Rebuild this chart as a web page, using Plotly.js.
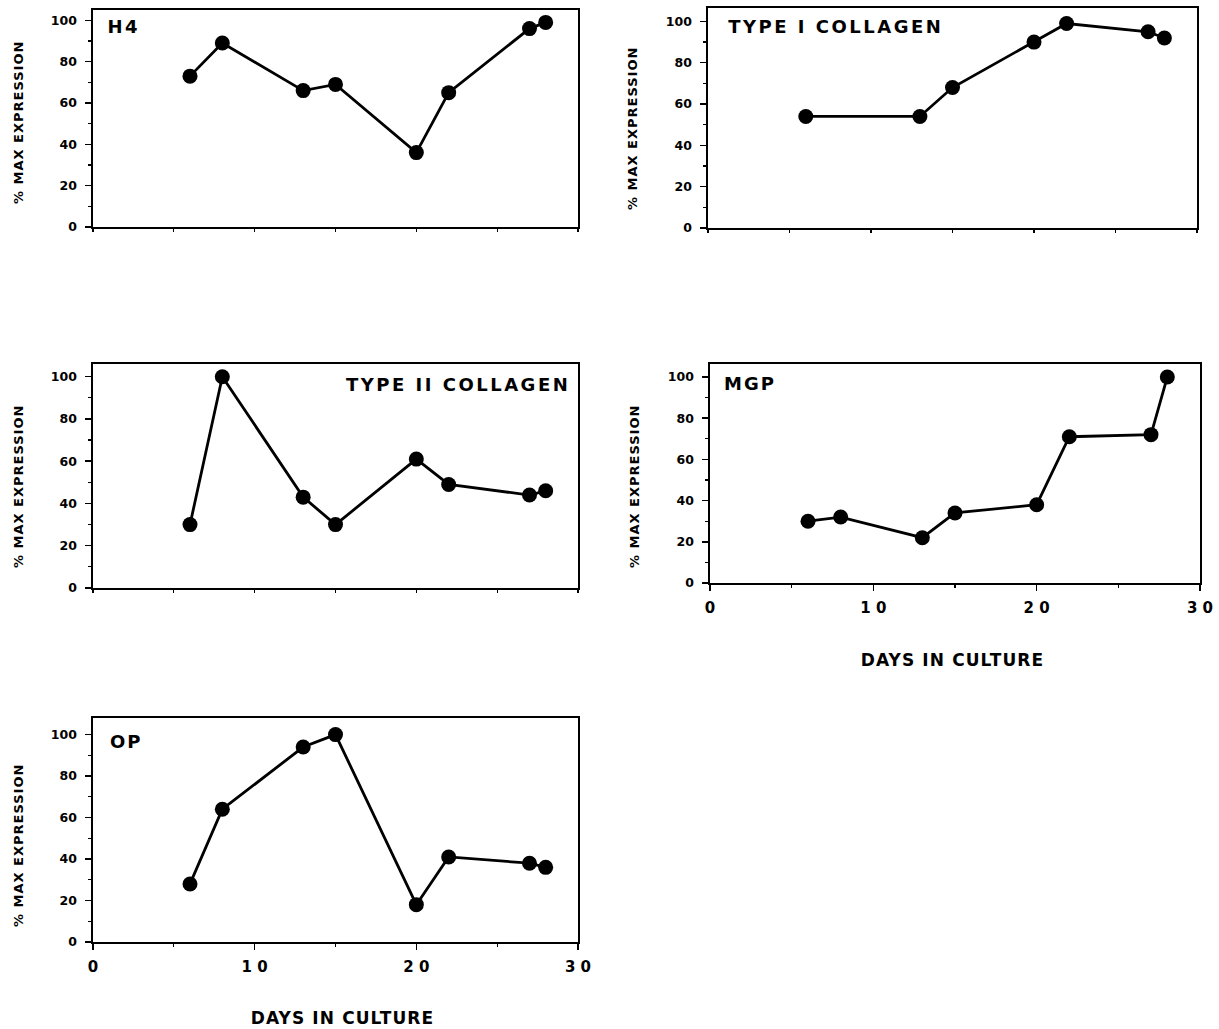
<!DOCTYPE html>
<html>
<head>
<meta charset="utf-8">
<script src="https://cdn.plot.ly/plotly-3.0.1.min.js"></script>
<style>
html,body{margin:0;padding:0;background:#fff;}
#chart{width:1219px;height:1029px;}
.annotation[data-index="0"] text,.annotation[data-index="1"] text,.annotation[data-index="2"] text,
.annotation[data-index="3"] text,.annotation[data-index="4"] text{letter-spacing:1px;}
.annotation[data-index="5"] text{letter-spacing:2.5px;}
.annotation[data-index="6"] text,.annotation[data-index="7"] text{letter-spacing:2.5px;}
.annotation[data-index="8"] text,.annotation[data-index="9"] text{letter-spacing:2px;}
.annotation[data-index="10"] text,.annotation[data-index="11"] text{letter-spacing:1.1px;}
</style>
</head>
<body>
<div id="chart"></div>
<script>
const days = [6, 8, 13, 15, 20, 22, 27, 28];
const daysTypeI = [6, 13, 15, 20, 22, 27, 28];
const h4 = [73, 89, 66, 69, 36, 65, 96, 99];
const typeI = [54, 54, 68, 90, 99, 95, 92];
const typeII = [30, 100, 43, 30, 61, 49, 44, 46];
const mgp = [30, 32, 22, 34, 38, 71, 72, 100];
const op = [28, 64, 94, 100, 18, 41, 38, 36];
const panelNames = ['H4', 'TYPE I COLLAGEN', 'TYPE II COLLAGEN', 'MGP', 'OP'];
const xTickVals = [0, 10, 20, 30];
const xTickText = ['0', '1 0', '2 0', '3 0'];
const yTickVals = [0, 20, 40, 60, 80, 100];
const yTitle = '% MAX EXPRESSION';
const xTitle = 'DAYS IN CULTURE';

const W = 1219, H = 1029;
const FONT = 'DejaVu Sans, Liberation Sans, sans-serif';
// panel frames in pixels: [left, right, top, bottom], y max
const frames = [
  [93, 578, 10, 227, 105],
  [708, 1197, 8, 228, 106.5],
  [93, 578, 364, 588, 106],
  [710, 1200, 364, 583, 106.3],
  [93, 578, 718, 942, 108]
];
const series = [
  [days, h4], [daysTypeI, typeI], [days, typeII], [days, mgp], [days, op]
];
const showX = [false, false, false, true, true];
const yTitlePos = [[18, 123], [632, 129], [18, 487], [634, 487], [18, 846]];

const traces = [];
const layout = {
  width: W, height: H,
  margin: {l: 0, r: 0, t: 0, b: 0},
  paper_bgcolor: '#fff', plot_bgcolor: '#fff',
  showlegend: false,
  font: {family: FONT, color: '#000'},
  annotations: []
};

frames.forEach((f, i) => {
  const n = i + 1;
  const sfx = n === 1 ? '' : String(n);
  traces.push({
    x: series[i][0], y: series[i][1],
    xaxis: 'x' + sfx, yaxis: 'y' + sfx,
    type: 'scatter', mode: 'lines+markers',
    line: {color: '#000', width: 2.8},
    marker: {color: '#000', size: 15},
    cliponaxis: false
  });
  layout['xaxis' + sfx] = {
    domain: [f[0] / W, f[1] / W],
    anchor: 'y' + sfx,
    range: [0, 30],
    showline: true, linecolor: '#000', linewidth: 1.6, mirror: true,
    showgrid: false, zeroline: false,
    tickmode: 'array', tickvals: xTickVals, ticktext: xTickText,
    ticks: 'outside', ticklen: showX[i] ? 6 : 3, tickwidth: 1.5, tickcolor: '#000',
    showticklabels: showX[i],
    tickfont: {family: FONT, size: 15, weight: 'bold', color: '#000'},
    minor: {tickvals: [5, 15, 25], ticks: 'outside', ticklen: 3, tickwidth: 1.2, tickcolor: '#000'},
    ticklabelstandoff: 4,
    fixedrange: true
  };
  layout['yaxis' + sfx] = {
    domain: [1 - f[3] / H, 1 - f[2] / H],
    anchor: 'x' + sfx,
    range: [0, f[4]],
    showline: true, linecolor: '#000', linewidth: 1.6, mirror: true,
    showgrid: false, zeroline: false,
    tickmode: 'array', tickvals: yTickVals,
    ticks: 'outside', ticklen: 6, tickwidth: 1.5, tickcolor: '#000',
    tickfont: {family: FONT, size: 12.5, weight: 'bold', color: '#000'},
    minor: {dtick: 10, ticks: 'outside', ticklen: 3, tickwidth: 1.2, tickcolor: '#000'},
    ticklabelstandoff: 6,
    fixedrange: true
  };
  // y axis title
  layout.annotations.push({
    xref: 'paper', yref: 'paper',
    x: yTitlePos[i][0] / W, y: 1 - yTitlePos[i][1] / H,
    text: yTitle, textangle: -90, showarrow: false,
    xanchor: 'center', yanchor: 'middle',
    font: {family: FONT, size: 13, weight: 'bold', color: '#000'}
  });
});

// panel labels (centre positions)
const labelPos = [[124, 27], [836, 27], [458, 385], [750, 384], [126, 741]];
labelPos.forEach((p, i) => {
  layout.annotations.push({
    xref: 'paper', yref: 'paper', x: p[0] / W, y: 1 - p[1] / H,
    text: panelNames[i], showarrow: false, xanchor: 'center', yanchor: 'middle',
    font: {family: FONT, size: 18, weight: 'bold', color: '#000'}
  });
});

// x axis titles
[[952, 660], [342, 1018]].forEach(p => {
  layout.annotations.push({
    xref: 'paper', yref: 'paper', x: p[0] / W, y: 1 - p[1] / H,
    text: xTitle, showarrow: false, xanchor: 'center', yanchor: 'middle',
    font: {family: FONT, size: 17, weight: 'bold', color: '#000'}
  });
});

Plotly.newPlot('chart', traces, layout, {staticPlot: true, displayModeBar: false});
</script>
</body>
</html>
